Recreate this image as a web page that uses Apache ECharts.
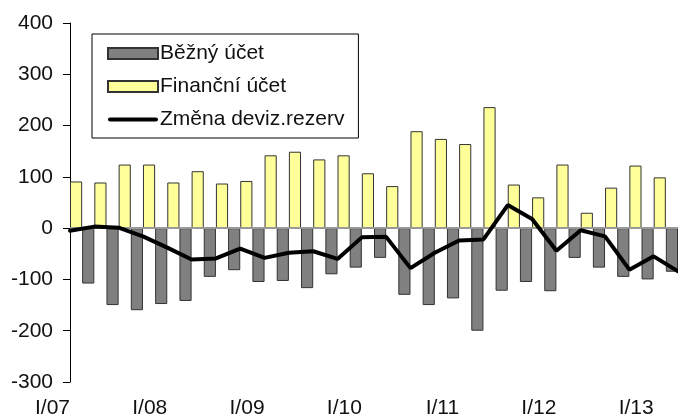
<!DOCTYPE html>
<html>
<head>
<meta charset="utf-8">
<script src="https://cdn.jsdelivr.net/npm/echarts@6/dist/echarts.min.js"></script>
<style>
  html, body { margin: 0; padding: 0; background: #fff; }
  #chart { width: 678px; height: 419px; }
</style>
</head>
<body>
<div id="chart"></div>
<script>
// quarters from I/07 on, only the I/ labels are shown
const quarters = [
  "I/07", "II/07", "III/07", "IV/07",
  "I/08", "II/08", "III/08", "IV/08",
  "I/09", "II/09", "III/09", "IV/09",
  "I/10", "II/10", "III/10", "IV/10",
  "I/11", "II/11", "III/11", "IV/11",
  "I/12", "II/12", "III/12", "IV/12",
  "I/13", "II/13"
];

// Běžný účet (first value is hidden behind the axis)
const currentAccount = [
  null, -108, -150, -160, -148, -142, -95, -82, -105, -103, -117, -90, -77,
  -58, -130, -150, -137, -200, -122, -105, -123, -58, -77, -95, -100, -85
];

// Finanční účet (last value is off the picture)
const financialAccount = [
  91, 89, 124, 124, 89, 111, 87, 92, 142, 149, 134, 142, 107,
  82, 189, 174, 164, 236, 85, 60, 124, 30, 79, 122, 99, null
];

// Změna deviz.rezerv
const reserveChange = [
  -5, 3, 1, -16, -38, -61, -59, -40, -58, -48, -45, -60, -18,
  -17, -78, -48, -24, -22, 45, 18, -44, -4, -16, -81, -55, -84
];

const fontFamily = "'Liberation Sans', Arial, sans-serif";

const chart = echarts.init(document.getElementById("chart"));
const option = {
  animation: false,
  textStyle: { fontFamily: fontFamily },
  grid: {
    left: 70,
    right: -4.5,
    top: 23,
    bottom: 33.5,
  },
  legend: {
    orient: "vertical",
    left: 92,
    top: 34,
    padding: [9, 14, 8, 15],
    itemGap: 12,
    itemWidth: 50,
    itemHeight: 11,
    borderColor: "#000",
    borderWidth: 1,
    backgroundColor: "#fff",
    textStyle: {
      fontSize: 21,
      color: "#111",
      fontFamily: fontFamily,
      padding: [0, 0, 0, -3],
    },
    data: [
      { name: "Běžný účet", icon: "rect" },
      { name: "Finanční účet", icon: "rect" },
      {
        name: "Změna deviz.rezerv",
        icon: "path://M2,0 L48,0 A2,2 0 0 1 48,4 L2,4 A2,2 0 0 1 2,0 Z",
        itemStyle: { color: "#000", borderWidth: 0 },
      },
    ],
  },
  xAxis: {
    type: "category",
    data: quarters,
    boundaryGap: false,
    axisLine: { lineStyle: { color: "#000", width: 1 } },
    axisTick: { show: false },
    splitLine: { show: false },
    axisLabel: {
      interval: 3,
      align: "right",
      margin: 16,
      fontSize: 21,
      color: "#111",
    },
  },
  yAxis: {
    type: "value",
    min: -300,
    max: 400,
    interval: 100,
    axisLine: { show: true, lineStyle: { color: "#000", width: 1 } },
    axisTick: { show: true, length: 7, lineStyle: { color: "#000" } },
    splitLine: { show: false },
    axisLabel: {
      margin: 17,
      fontSize: 21,
      color: "#111",
    },
  },
  series: [
    {
      name: "Běžný účet",
      type: "bar",
      data: currentAccount,
      barGap: "0%",
      barCategoryGap: "0%",
      clip: true,
      itemStyle: {
        color: "#808080",
        borderColor: "#333",
        borderWidth: 1,
      },
      markLine: {
        silent: true,
        symbol: "none",
        label: { show: false },
        lineStyle: { color: "#999", width: 2, type: "solid" },
        data: [{ yAxis: 0 }],
      },
    },
    {
      name: "Finanční účet",
      type: "bar",
      data: financialAccount,
      barGap: "0%",
      barCategoryGap: "0%",
      clip: true,
      itemStyle: {
        color: "#FFFF99",
        borderColor: "#333",
        borderWidth: 1,
      },
    },
    {
      name: "Změna deviz.rezerv",
      type: "line",
      data: reserveChange,
      symbol: "none",
      z: 5,
      lineStyle: { color: "#000", width: 4, cap: "round" },
      itemStyle: { color: "#000" },
    },
  ],
};
chart.setOption(option);
</script>
</body>
</html>
